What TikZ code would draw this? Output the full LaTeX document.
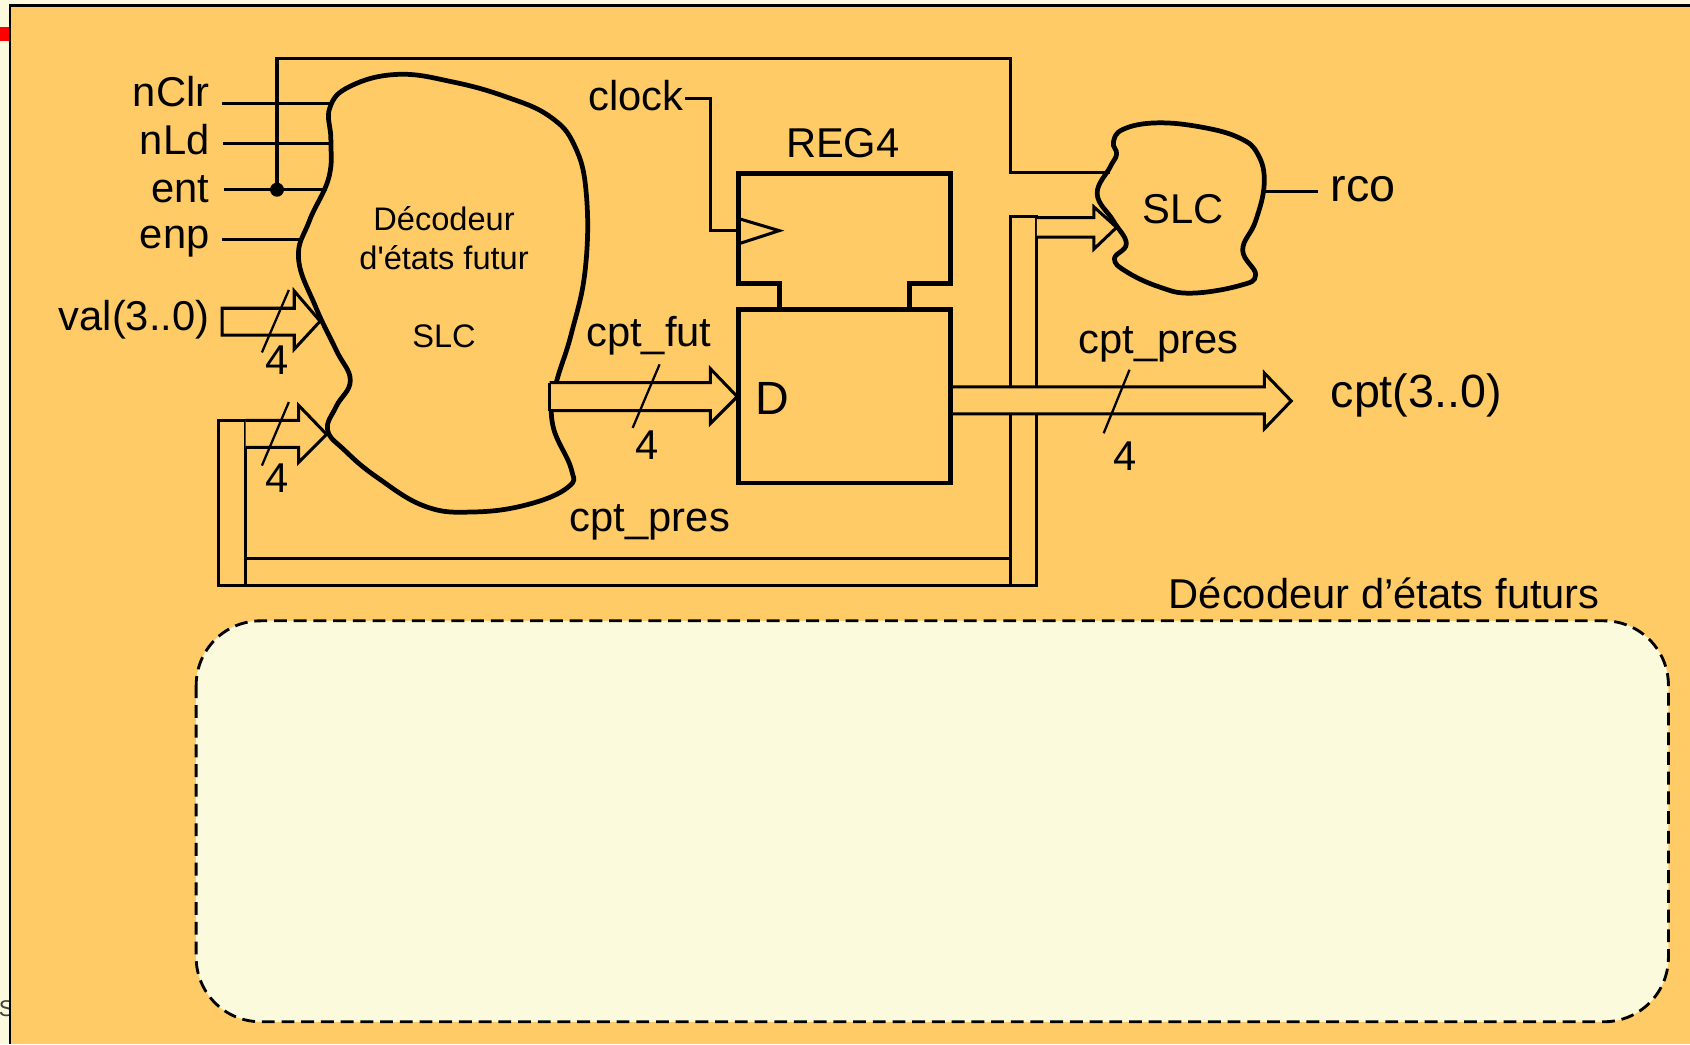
\documentclass[tikz,border=0pt]{standalone}
\usepackage{fontspec}
\setmainfont{Liberation Sans}
\newfontfamily\plainsans{Liberation Sans}
\usepackage{xcolor}
\definecolor{slidebg}{HTML}{FFCB66}
\definecolor{palebg}{HTML}{FCFADC}
\tikzset{
  lbl/.style={font=\fontsize{11}{13}\selectfont,inner sep=0pt,text height=8pt,text depth=2pt},
  smalllbl/.style={font=\plainsans\fontsize{8.6}{10}\selectfont,inner sep=0pt,text height=6.2pt,text depth=1.6pt},
  biglbl/.style={font=\fontsize{12.3}{14}\selectfont,inner sep=0pt,text height=9pt,text depth=2pt},
  wire/.style={line width=0.8pt},
  bus/.style={line width=0.8pt,fill=slidebg,miter limit=8},
  slash/.style={line width=0.6pt},
  blob/.style={line width=1.25pt,line join=round},
  regline/.style={line width=1.2pt}
}
\begin{document}
\begin{tikzpicture}[x=0.01cm,y=-0.01cm]
  \useasboundingbox (0,0) rectangle (1568,969);
  \clip (0,0) rectangle (1568,969);
  \fill[palebg] (0,0) rectangle (1568,969);
  \node[text=black!75,font=\fontsize{6}{7}\selectfont,inner sep=0pt] (pagenum) at (6,936) {S};
  \fill[red] (0,25) rectangle (9,38);
  \fill[slidebg] (9,5) rectangle (1568,969);
  \draw[line width=0.6pt] (9,969) -- (9,5) -- (1568,5);

  \node[lbl,anchor=east] (nclr) at (195,88) {nClr}; \node[lbl,anchor=east] (nld) at (195,133) {nLd};
  \node[lbl,anchor=east] (ent) at (195,177) {ent}; \node[lbl,anchor=east] (enp) at (195,220) {enp};
  \node[lbl,anchor=east] (val) at (195,296) {val(3..0)};

  \coordinate (nclrA) at (206,96); \coordinate (nclrB) at (306,96);
  \coordinate (nldA) at (207,133); \coordinate (nldB) at (305,133);
  \coordinate (entA) at (208,176); \coordinate (entB) at (303,176); \coordinate (entC) at (257,176);
  \coordinate (enpA) at (206,222); \coordinate (enpB) at (280,222);
  \coordinate (rcoIn) at (1030,160);
  \draw[wire] (nclrA) -- (nclrB); \draw[wire] (nldA) -- (nldB); \draw[wire] (entA) -- (entB); \draw[wire] (enpA) -- (enpB);
  \fill (entC) circle (6.5);
  \draw[wire] (entC) |- (938,54) |- (rcoIn);

  % bus de retour
  \draw[wire,fill=slidebg] (203,390) rectangle (228,543);
  \draw[wire,fill=slidebg] (228,518) rectangle (938,543);
  \draw[wire,fill=slidebg] (938,201) rectangle (962,543);

  \draw[bus] (206,286) -- (273,286) -- (273,270) -- (297,298) -- (273,324) -- (273,311) -- (206,311) -- cycle;
  \draw[bus] (228,390) -- (277,390) -- (277,376) -- (303,403) -- (277,429) -- (277,415) -- (228,415);
  \draw[bus] (962,202) -- (1015,202) -- (1015,192) -- (1036,211) -- (1015,231) -- (1015,220) -- (962,220);

  \draw[blob] plot[smooth cycle,tension=0.7] coordinates {(306,100) (325,80) (369,69) (420,76) (470,90) (510,108) (533,135) (544,180) (543,250) (530,310) (515,360) (513,395) (530,435) (527,452) (490,468) (440,475) (395,470) (350,443) (320,418) (304,399) (312,377) (325,353) (312,325) (293,285) (277,240) (287,205) (305,165) (307,130)};
  \draw[blob] plot[smooth cycle,tension=0.7] coordinates {(1033,132) (1042,120) (1073,114) (1115,118) (1150,128) (1167,143) (1173,170) (1165,205) (1153,232) (1165,255) (1150,265) (1105,272) (1075,266) (1045,252) (1034,240) (1045,226) (1033,205) (1018,180) (1030,155) (1036,143)};

  \node[smalllbl] (dec1) at (412,206) {Décodeur}; \node[smalllbl] (dec2) at (412,242) {d'états futur}; \node[smalllbl] (slc1) at (412,314) {SLC};
  \node[lbl] (slc2) at (1098,197) {SLC};
  \node[biglbl,anchor=west] (rco) at (1234,175) {rco};
  \coordinate (rcoOut) at (1173,178); \coordinate (rcoEnd) at (1223,178);
  \draw[wire] (rcoOut) -- (rcoEnd);

  \draw[bus] (510,355) -- (659,355) -- (659,342) -- (684,368) -- (659,393) -- (659,381) -- (510,381);
  \draw[line width=0.9pt] (510,355) -- (510,381);
  \draw[bus] (883,359) -- (1173,359) -- (1173,346) -- (1198,372) -- (1173,398) -- (1173,384) -- (883,384);

  % registre
  \draw[regline,line join=miter] (723,287) -- (723,263) -- (685,263) -- (685,161) -- (882,161) -- (882,263) -- (844,263) -- (844,287);
  \draw[regline] (685,287) rectangle (882,448);
  \node[lbl] (reg4) at (782,136) {REG4}; \node[biglbl] (dlbl) at (717,372) {D};
  \node[lbl,anchor=east] (clock) at (635,92) {clock};
  \coordinate (clkIn) at (686,214);
  \draw[wire] (clock.east) ++(1,-1) -- ++(23,0) |- (clkIn);
  \draw[wire] (686,203) -- (723,214) -- (686,226);

  \draw[slash] (268,269) -- (243,327); \draw[slash] (268,373) -- (243,432);
  \draw[slash] (612,338) -- (587,397); \draw[slash] (1048,343) -- (1024,402);
  \node[lbl] (n4a) at (257,337) {4}; \node[lbl] (n4b) at (257,446) {4};
  \node[lbl] (n4c) at (600,416) {4}; \node[lbl] (n4d) at (1044,426) {4};

  \node[lbl] (cptfut) at (602,311) {cpt\_fut}; \node[lbl] (cptpres) at (1075,317) {cpt\_pres};
  \node[lbl] (cptpresb) at (603,483) {cpt\_pres}; \node[biglbl] (cptout) at (1314,366) {cpt(3..0)};

  \node[lbl,anchor=east] (title) at (1485,554) {Décodeur d’états futurs};
  \draw[fill=palebg,line width=0.75pt,dash pattern=on 3.4pt off 1.8pt,rounded corners=60*0.2835pt] (182,576) rectangle (1548,948);
\end{tikzpicture}
\end{document}
